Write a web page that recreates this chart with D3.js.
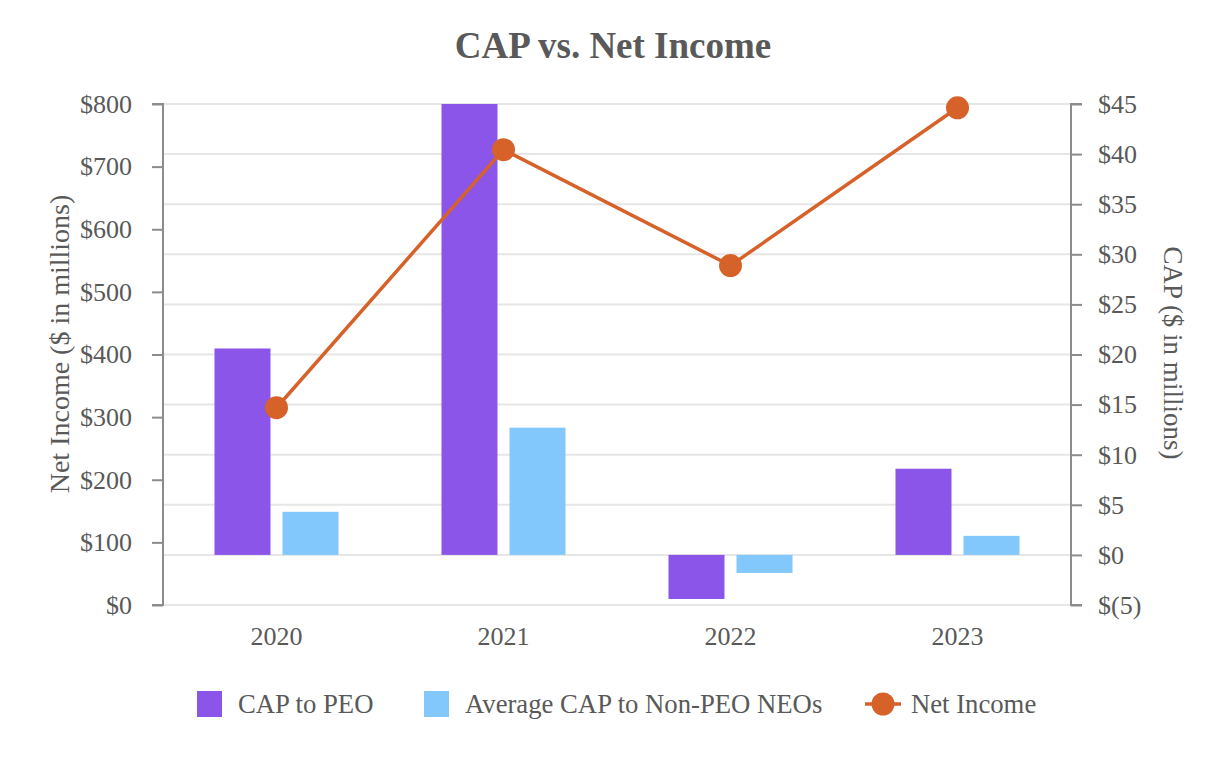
<!DOCTYPE html>
<html><head><meta charset="utf-8">
<script src="https://cdn.jsdelivr.net/npm/d3@7"></script>
<style>body{margin:0;background:#fff;}svg{display:block;}</style>
</head><body>
<svg id="c" width="1226" height="760"></svg>
<script>
const years = ["2020","2021","2022","2023"];
const capPEO = [20.6, 45.0, -4.4, 8.6];
const capNEO = [4.3, 12.7, -1.8, 1.9];
const netIncome = [315, 727, 542, 794];
const leftTicks = [0,100,200,300,400,500,600,700,800];
const rightTicks = [-5,0,5,10,15,20,25,30,35,40,45];
const seriesNames = ["CAP to PEO","Average CAP to Non-PEO NEOs","Net Income"];

const colPEO = "#8B55EA", colNEO = "#82C8FD", colNI = "#D6622A";
const textCol = "#595959", axisCol = "#8c8c8c", gridCol = "#e6e6e6";
const font = "'Liberation Serif','Times New Roman',serif";
const fs = "26px";

const svg = d3.select("#c");
const L = 163, R = 1071, T = 104, B = 605;

const x = d3.scaleBand().domain(years).range([L, R]);
const xs = d3.scaleBand().domain(["peo","neo"]).range([0, x.bandwidth()]).paddingInner(0.1765).paddingOuter(0.757);
const yL = d3.scaleLinear().domain([0, 800]).range([B, T]);
const yR = d3.scaleLinear().domain([-5, 45]).range([B, T]);

// gridlines (right axis ticks)
svg.append("g").selectAll("line").data(rightTicks).join("line")
  .attr("x1", L).attr("x2", R).attr("y1", d => yR(d)).attr("y2", d => yR(d))
  .attr("stroke", gridCol).attr("stroke-width", 2);

// bars
const g = svg.append("g");
years.forEach((yr, i) => {
  [["peo", capPEO[i], colPEO], ["neo", capNEO[i], colNEO]].forEach(([k, v, c]) => {
    g.append("rect")
      .attr("x", x(yr) + xs(k)).attr("width", xs.bandwidth())
      .attr("y", yR(Math.max(0, v))).attr("height", Math.abs(yR(v) - yR(0)))
      .attr("fill", c);
  });
});

// axes
const axL = d3.axisLeft(yL).tickValues(leftTicks).tickSize(11).tickPadding(20).tickFormat(d => "$" + d);
const gl = svg.append("g").attr("transform", `translate(${L},0)`).call(axL);
const fmtR = d => d < 0 ? "$(" + (-d) + ")" : "$" + d;
const axR = d3.axisRight(yR).tickValues(rightTicks).tickSize(11).tickPadding(16).tickFormat(fmtR);
const gr = svg.append("g").attr("transform", `translate(${R},0)`).call(axR);
[gl, gr].forEach(a => {
  a.select(".domain").attr("stroke", axisCol).attr("stroke-width", 2);
  a.selectAll(".tick line").attr("stroke", axisCol).attr("stroke-width", 2);
  a.selectAll(".tick text").attr("fill", textCol).style("font-family", font).style("font-size", fs);
});
gl.select(".domain").attr("d", `M-11,${T}H0V${B}H-11`);
gr.select(".domain").attr("d", `M11,${T}H0V${B}H11`);

// x labels
svg.append("g").selectAll("text").data(years).join("text")
  .attr("x", d => x(d) + x.bandwidth() / 2).attr("y", 645)
  .attr("text-anchor", "middle").attr("fill", textCol)
  .style("font-family", font).style("font-size", fs).text(d => d);

// line
const cx = (d, i) => x(years[i]) + x.bandwidth() / 2;
svg.append("path").datum(netIncome)
  .attr("d", d3.line().x((d, i) => cx(d, i)).y(d => yL(d)))
  .attr("fill", "none").attr("stroke", colNI).attr("stroke-width", 3.5);
svg.append("g").selectAll("circle").data(netIncome).join("circle")
  .attr("cx", (d, i) => cx(d, i)).attr("cy", d => yL(d)).attr("r", 11.5).attr("fill", colNI);

// title
svg.append("text").attr("x", 613).attr("y", 58).attr("text-anchor", "middle")
  .attr("fill", textCol).style("font-family", font).style("font-size", "37px").style("font-weight", "bold")
  .text("CAP vs. Net Income");

// axis titles
svg.append("text").attr("transform", "translate(69,344) rotate(-90)").attr("text-anchor", "middle")
  .attr("fill", textCol).style("font-family", font).style("font-size", "28px").text("Net Income ($ in millions)");
svg.append("text").attr("transform", "translate(1164,353) rotate(90)").attr("text-anchor", "middle")
  .attr("fill", textCol).style("font-family", font).style("font-size", "27px").text("CAP ($ in millions)");

// legend
const lg = svg.append("g");
const lfs = "26.7px";
lg.append("rect").attr("x", 197).attr("y", 691).attr("width", 25).attr("height", 26).attr("fill", colPEO);
lg.append("text").attr("x", 238).attr("y", 713).attr("fill", textCol).style("font-family", font).style("font-size", lfs).text(seriesNames[0]);
lg.append("rect").attr("x", 424).attr("y", 691).attr("width", 25).attr("height", 26).attr("fill", colNEO);
lg.append("text").attr("x", 465).attr("y", 713).attr("fill", textCol).style("font-family", font).style("font-size", lfs).text(seriesNames[1]);
lg.append("line").attr("x1", 865).attr("x2", 901).attr("y1", 704).attr("y2", 704).attr("stroke", colNI).attr("stroke-width", 3.5);
lg.append("circle").attr("cx", 883).attr("cy", 704).attr("r", 11.5).attr("fill", colNI);
lg.append("text").attr("x", 911).attr("y", 713).attr("fill", textCol).style("font-family", font).style("font-size", lfs).text(seriesNames[2]);
</script>
</body></html>
